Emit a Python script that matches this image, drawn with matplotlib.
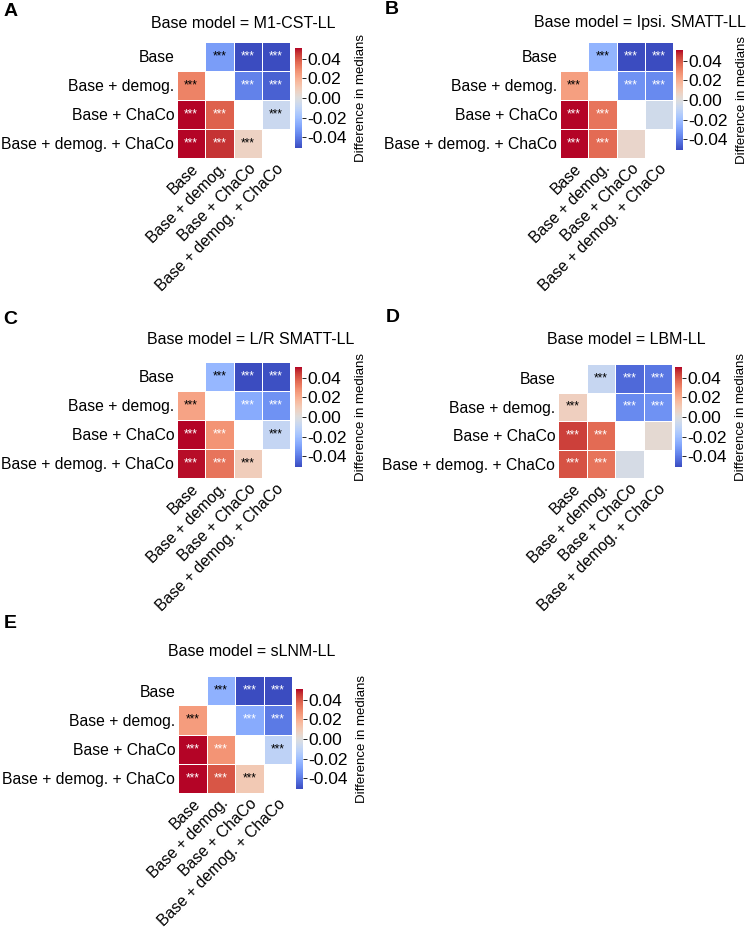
import numpy as np
import matplotlib
matplotlib.use("Agg")
import matplotlib.pyplot as plt

plt.rcParams['font.family'] = ['Liberation Sans', 'DejaVu Sans']
plt.rcParams['axes.unicode_minus'] = False

models = ["Base", "Base + demog.", "Base + ChaCo", "Base + demog. + ChaCo"]
panel_letters = ["A", "B", "C", "D", "E"]
base_models = ["M1-CST-LL", "Ipsi. SMATT-LL", "L/R SMATT-LL", "LBM-LL", "sLNM-LL"]

# lower-triangle differences in medians (row model minus column model),
# order: (demog,Base), (ChaCo,Base), (ChaCo,demog), (both,Base), (both,demog), (both,ChaCo)
pairs = [(1, 0), (2, 0), (2, 1), (3, 0), (3, 1), (3, 2)]
diff_A = [0.031, 0.052, 0.038, 0.052, 0.046, 0.007]
diff_B = [0.024, 0.052, 0.034, 0.052, 0.036, 0.005]
diff_C = [0.023, 0.052, 0.027, 0.050, 0.034, 0.009]
diff_D = [0.008, 0.044, 0.036, 0.041, 0.034, -0.003]
diff_E = [0.025, 0.052, 0.027, 0.052, 0.040, 0.011]
# significance annotations for each pair
sig_A = ["***", "***", "***", "***", "***", "***"]
sig_B = ["***", "***", "***", "***", "***", ""]
sig_C = ["***", "***", "***", "***", "***", "***"]
sig_D = ["***", "***", "***", "***", "***", ""]
sig_E = ["***", "***", "***", "***", "***", "***"]
# whether the annotation is drawn in black (True) or white (False)
dark_A = [True, False, False, False, False, True]
dark_B = [True, False, False, False, False, True]
dark_C = [True, False, False, False, False, True]
dark_D = [True, False, False, False, False, True]
dark_E = [True, False, False, False, False, True]

diffs = [diff_A, diff_B, diff_C, diff_D, diff_E]
sigs = [sig_A, sig_B, sig_C, sig_D, sig_E]
darks = [dark_A, dark_B, dark_C, dark_D, dark_E]

cbar_ticks = [-0.04, -0.02, 0.00, 0.02, 0.04]
VMAX = 0.051

W, H = 747, 927
fig = plt.figure(figsize=(W / 100, H / 100), dpi=100)


def rect(x0, y0, x1, y1):
    return [x0 / W, 1 - y1 / H, (x1 - x0) / W, (y1 - y0) / H]


# layout in pixels: heatmap box, colorbar box, title center, letter center
layout = [
    dict(heat=(177, 42, 290, 158), cbar=(295, 48, 302, 148), title=(243, 23), letter=(11, 11)),
    dict(heat=(560, 42, 673, 158), cbar=(676, 50, 683, 150), title=(640, 23), letter=(392, 10)),
    dict(heat=(177, 362, 290, 478), cbar=(295, 367, 302, 467), title=(251, 339), letter=(10, 319)),
    dict(heat=(558, 364, 672, 478), cbar=(675, 367, 682, 467), title=(626, 339), letter=(393, 318)),
    dict(heat=(178, 676, 292, 793), cbar=(296, 689, 303, 789), title=(252, 652), letter=(10, 623)),
]

n = len(models)
for k in range(5):
    M = np.full((n, n), np.nan)
    for (i, j), v in zip(pairs, diffs[k]):
        M[i, j] = v
        M[j, i] = -v
    L = layout[k]
    ax = fig.add_axes(rect(*L["heat"]))
    mesh = ax.pcolormesh(np.ma.masked_invalid(M), cmap="coolwarm", vmin=-VMAX, vmax=VMAX,
                         edgecolors="white", linewidth=0.6)
    ax.set_xlim(0, n)
    ax.set_ylim(n, 0)
    for (i, j), s, d in zip(pairs, sigs[k], darks[k]):
        c = "black" if d else "white"
        for (r, cc) in [(i, j), (j, i)]:
            if s:
                ax.text(cc + 0.5, r + 0.5, s, ha="center", va="center", fontsize=8.5, color=c)
    ax.set_xticks(np.arange(n) + 0.5)
    ax.set_yticks(np.arange(n) + 0.5)
    ax.set_xticklabels(models, rotation=45, ha="right", rotation_mode="anchor", fontsize=11.3)
    ax.set_yticklabels(models, fontsize=11.3)
    ax.tick_params(length=0, pad=2)
    for sp in ax.spines.values():
        sp.set_visible(False)

    cax = fig.add_axes(rect(*L["cbar"]))
    cb = fig.colorbar(mesh, cax=cax, ticks=cbar_ticks)
    cb.outline.set_linewidth(0)
    cb.ax.set_yticklabels(["%.2f" % t for t in cbar_ticks])
    cb.ax.tick_params(labelsize=12.5, length=3, width=0.6, pad=1)
    cb.set_label("Difference in medians", fontsize=9.5, labelpad=6)

    tx, ty = L["title"]
    fig.text(tx / W, 1 - ty / H, "Base model = " + base_models[k], ha="center", va="center",
             fontsize=11.5)
    lx, ly = L["letter"]
    fig.text(lx / W, 1 - ly / H, panel_letters[k], ha="center", va="center",
             fontsize=14, fontweight="bold")

fig.savefig("out.png", dpi=100)
